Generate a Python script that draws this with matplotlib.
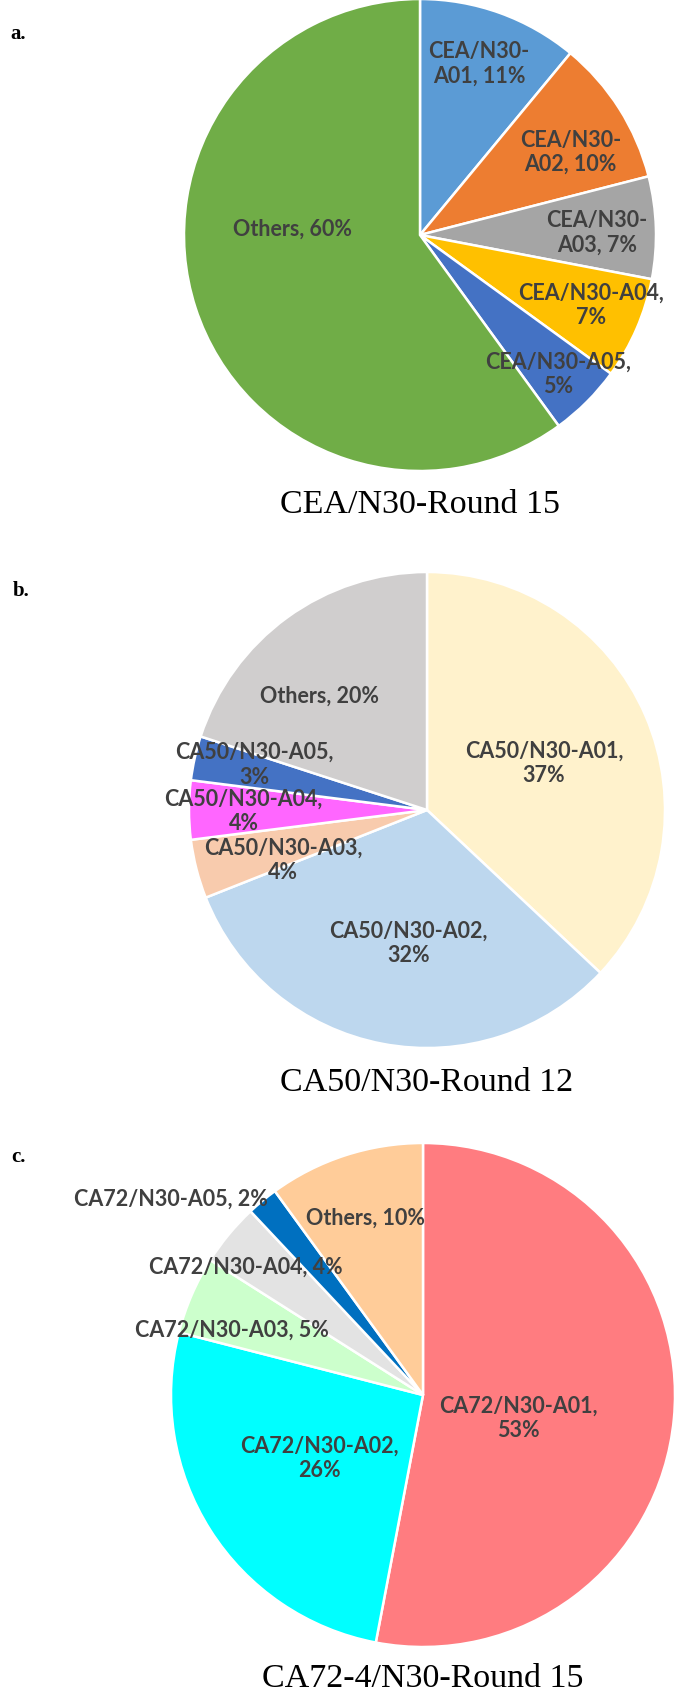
import matplotlib
matplotlib.use("Agg")
import matplotlib.pyplot as plt
import numpy as np

# panel a
a_labels = ["CEA/N30-\nA01, 11%", "CEA/N30-\nA02, 10%", "CEA/N30-\nA03, 7%",
            "CEA/N30-A04,\n7%", "CEA/N30-A05,\n5%", "Others, 60%"]
a_values = [11, 10, 7, 7, 5, 60]
a_colors = ["#5B9BD5", "#ED7D31", "#A5A5A5", "#FFC000", "#4472C4", "#70AD47"]
a_title = "CEA/N30-Round 15"

# panel b
b_labels = ["CA50/N30-A01,\n37%", "CA50/N30-A02,\n32%", "CA50/N30-A03,\n4%",
            "CA50/N30-A04,\n4%", "CA50/N30-A05,\n3%", "Others, 20%"]
b_values = [37, 32, 4, 4, 3, 20]
b_colors = ["#FFF2CC", "#BDD7EE", "#F8CBAD", "#FF66FF", "#4472C4", "#D0CECE"]
b_title = "CA50/N30-Round 12"

# panel c
c_labels = ["CA72/N30-A01,\n53%", "CA72/N30-A02,\n26%", "CA72/N30-A03, 5%",
            "CA72/N30-A04, 4%", "CA72/N30-A05, 2%", "Others, 10%"]
c_values = [53, 26, 5, 4, 2, 10]
c_colors = ["#FF7C80", "#00FFFF", "#CCFFCC", "#E3E3E3", "#0070C0", "#FFCC99"]
c_title = "CA72-4/N30-Round 15"

W, H = 677, 1699
fig = plt.figure(figsize=(W / 100, H / 100), dpi=100)

# label placement: (angle clockwise from top in degrees, distance in radii)
a_lab_pos = [(19, 0.77), (61, 0.73), (89, 0.75), (112, 0.78), (135, 0.83), (273, 0.54)]
b_lab_pos = [(68, 0.53), (188, 0.56), (251, 0.64), (270, 0.77), (285, 0.75), (317, 0.66)]
c_lab_pos = [(103, 0.39), (239, 0.48), (289, 0.80), (306, 0.87), (308, 1.27), (342, 0.74)]

panels = [
    ("a.", a_values, a_colors, a_labels, a_lab_pos, a_title, (420, 236, 236), (10, 34)),
    ("b.", b_values, b_colors, b_labels, b_lab_pos, b_title, (427, 811, 238), (13, 591)),
    ("c.", c_values, c_colors, c_labels, c_lab_pos, c_title, (423, 1396, 252), (11, 1157)),
]

for tag, vals, cols, labs, lpos, title, (cx, cy, r), (tx, ty) in panels:
    ax = fig.add_axes([(cx - r) / W, (H - cy - r) / H, 2 * r / W, 2 * r / H])
    ax.pie(vals, colors=cols, startangle=90, counterclock=False,
           wedgeprops=dict(edgecolor="white", linewidth=1.8))
    ax.set_xlim(-1, 1)
    ax.set_ylim(-1, 1)
    for lab, (ang, d) in zip(labs, lpos):
        th = np.deg2rad(90 - ang)
        ax.text(d * np.cos(th), d * np.sin(th), lab, ha="center", va="center",
                fontsize=15.5, fontweight="bold", color="#404040", family="Lato",
                linespacing=1.2)
    # title sits just under the pie (the last one kept inside the canvas)
    ty_title = (H - 5 - cy) / r if tag == "c." else 1.14
    ax.text(0, -ty_title, title, ha="center", va="bottom" if tag == "c." else "center",
            fontsize=24.5, family="Liberation Serif", color="black")
    fig.text(tx / W, 1 - ty / H, tag, ha="left", va="center", fontsize=15,
             fontweight="bold", family="Liberation Serif")

fig.savefig("out.png", dpi=100)
